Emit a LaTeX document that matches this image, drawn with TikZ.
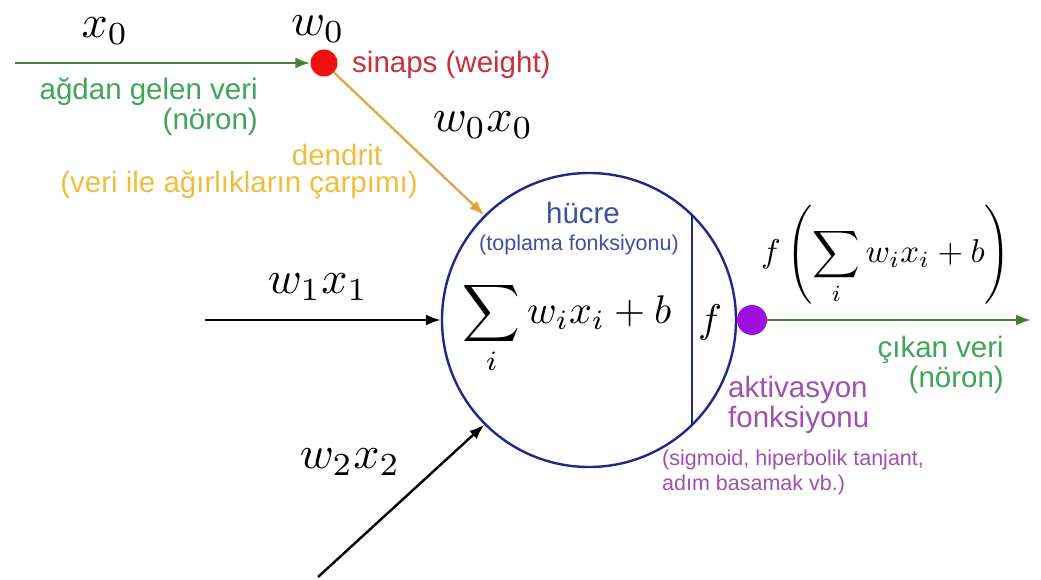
\documentclass[tikz,border=0pt]{standalone}
\usepackage{fontspec}
\usetikzlibrary{arrows.meta}
\newfontfamily\lsans{Liberation Sans}
\definecolor{garrow}{HTML}{4A7F3A}
\definecolor{gtext}{HTML}{3FA55A}
\definecolor{rtext}{HTML}{C8303F}
\definecolor{rdot}{HTML}{EE1111}
\definecolor{ytext}{HTML}{F0BE3C}
\definecolor{yline}{HTML}{D9AA50}
\definecolor{ytip}{HTML}{E8A030}
\definecolor{btext}{HTML}{4050A0}
\definecolor{navy}{HTML}{1E2A8A}
\definecolor{ptext}{HTML}{A050B0}
\definecolor{pdot}{HTML}{9B10E0}
\tikzset{
  x=1pt, y=-1pt,
  bigtext/.style={font=\lsans\fontsize{29.5}{30}\selectfont, inner sep=0pt},
  smalltext/.style={font=\lsans\fontsize{21.5}{25}\selectfont, inner sep=0pt},
  mathlbl/.style={inner sep=0pt, scale=4.6},
  arr/.style={line width=2.4pt, -{Latex[length=15pt,width=11pt]}},
  dot/.style={circle, inner sep=0pt},
}
\begin{document}
\begin{tikzpicture}
\path[use as bounding box, fill=white] (0,0) rectangle (1041,580);

% cell
\node[circle, draw=navy, line width=2.4pt, minimum size=294pt, inner sep=0pt] (cell) at (589,320) {};
\coordinate (vtop) at (692,215);
\coordinate (vbot) at (692,425);
\draw[navy, line width=2.4pt] (vtop) -- (vbot);

% synapse dot
\node[dot, fill=rdot, minimum size=27pt] (syn) at (324,63) {};
\coordinate (in0) at (15,63);
\draw[arr, garrow] (in0) -- (syn.west);

% dendrite
\draw[line width=2.4pt, yline, -{Latex[length=15pt,width=11pt,color=ytip]}] (syn) -- (cell.135);

% other inputs
\coordinate (in1) at (205,320);
\draw[arr, black] (in1) -- (cell.west);
\coordinate (in2) at (318,577);
\draw[arr, black] (in2) -- (cell.225);

% activation dot and output
\node[dot, fill=pdot, minimum size=30pt] (act) at (752,320) {};
\coordinate (out) at (1031,320);
\draw[arr, garrow] (act.east) -- (out);

% math labels
\node[mathlbl] (lx0) at (105,31) {$x_0$};
\node[mathlbl] (lw0) at (318,29) {$w_0$};
\node[mathlbl] (lw0x0) at (483,125) {$w_0x_0$};
\node[mathlbl] (lw1x1) at (318,287) {$w_1x_1$};
\node[mathlbl] (lw2x2) at (350,462) {$w_2x_2$};
\node[inner sep=0pt, scale=4] (sum) at (567,328) {$\displaystyle\sum_i w_ix_i+b$};
\node[inner sep=0pt, scale=4] (fl) at (710,322) {$f$};
\node[inner sep=0pt, scale=3.3] (outlbl) at (886,255) {$\displaystyle f\left(\sum_i w_ix_i+b\right)$};

% text labels
\node[bigtext, text=rtext, anchor=west] (sinaps) at (352,65) {sinaps (weight)};
\node[bigtext, text=gtext, align=right, anchor=east] (agdan) at (258,107) {ağdan gelen veri\\(nöron)};
\node[bigtext, text=ytext] (dendrit) at (337,155) {dendrit};
\node[bigtext, text=ytext] (carpim) at (239,185) {(veri ile ağırlıkların çarpımı)};
\node[bigtext, text=btext] (hucre) at (583,213) {hücre};
\node[smalltext, text=btext] (topl) at (579,245) {(toplama fonksiyonu)};
\node[bigtext, text=gtext, align=right, anchor=east] (cikan) at (1004,365) {çıkan veri\\(nöron)};
\node[bigtext, text=ptext, align=left, anchor=west] (aktiv) at (728,405) {aktivasyon\\fonksiyonu};
\node[smalltext, text=ptext, align=left, anchor=west] (sigm) at (662,472) {(sigmoid, hiperbolik tanjant,\\adım basamak vb.)};
\end{tikzpicture}
\end{document}
